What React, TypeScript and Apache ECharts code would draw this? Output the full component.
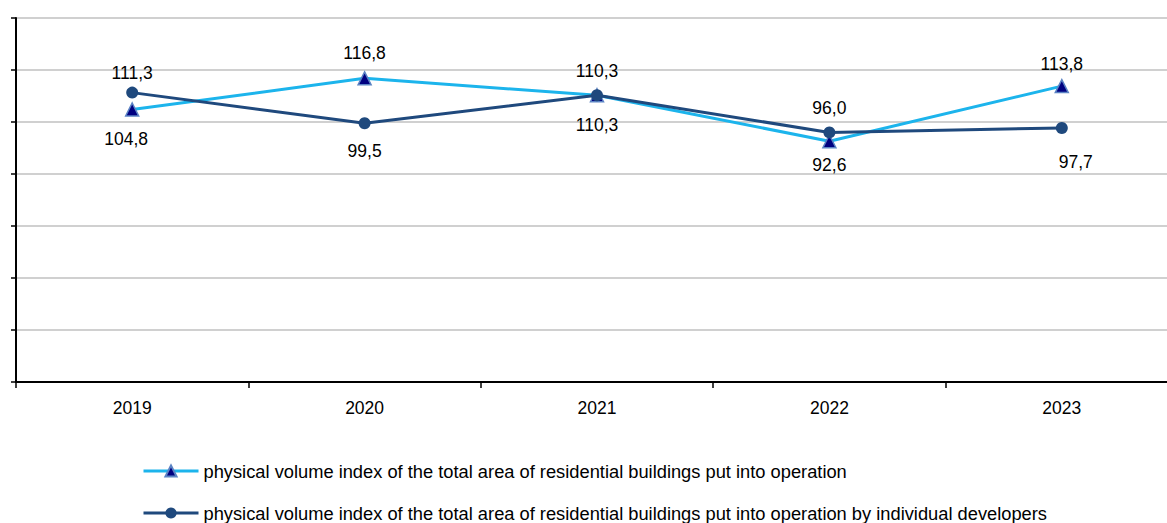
import React, { useEffect, useRef } from "react";
import * as echarts from "echarts";

const years = ["2019", "2020", "2021", "2022", "2023"];
const totalArea = [104.8, 116.8, 110.3, 92.6, 113.8];
const individual = [111.3, 99.5, 110.3, 96.0, 97.7];
const totalAreaLabelPos = ["bottom", "top", "bottom", "bottom", "top"];
const individualLabelPos = ["top", "bottom", "top", "top", "bottom"];
const totalName = "physical volume index of the total area of residential buildings put into operation";
const indivName = "physical volume index of the total area of residential buildings put into operation by individual developers";

const totalDist = [13.5, 9.5, 13.5, 7.5, 5.5];
const totalDx = [-6, 0, 0, 0, 0];
const indivDist = [4.5, 12.5, 9.5, 9.5, 19.5];
const indivDx = [0, 0, 0, 0, 14];

const FONT = "Liberation Sans, Arial, sans-serif";
const fmt = (p: any) => Number(p.value).toFixed(1).replace(".", ",");

export default function App() {
  const ref = useRef<HTMLDivElement>(null);
  useEffect(() => {
    if (!ref.current) return;
    const chart = echarts.init(ref.current, null, { renderer: "svg" });
    const labelStyle = { fontFamily: FONT, fontSize: 17.5, color: "#000" };
    const legendBase = {
      orient: "horizontal",
      left: 140,
      padding: 2,
      itemWidth: 55,
      itemHeight: 14,
      lineStyle: { width: 3 },
      textStyle: { fontSize: 18.3, color: "#000", fontFamily: FONT },
    };
    chart.setOption({
      animation: false,
      textStyle: { fontFamily: FONT },
      grid: { left: 16, top: 18, width: 1162, height: 364 },
      legend: [
        { ...legendBase, top: 460, data: [totalName] },
        { ...legendBase, top: 502, data: [indivName] },
      ],
      xAxis: {
        type: "category",
        data: years,
        boundaryGap: true,
        axisLine: { lineStyle: { color: "#000", width: 2 } },
        axisTick: { show: true, length: 6, lineStyle: { color: "#000", width: 1.5 } },
        axisLabel: { color: "#000", fontSize: 17.5, margin: 17 },
      },
      yAxis: {
        type: "value",
        min: 0,
        max: 140,
        interval: 20,
        axisLine: { show: true, lineStyle: { color: "#000", width: 2 } },
        axisTick: { show: true, length: 5, lineStyle: { color: "#000", width: 1.5 } },
        axisLabel: { show: false },
        splitLine: { lineStyle: { color: "#c0c0c0", width: 1.5 } },
      },
      series: [
        {
          name: totalName,
          type: "line",
          data: totalArea.map((v, i) => ({
            value: v,
            label: { position: totalAreaLabelPos[i], distance: totalDist[i], offset: [totalDx[i], 0] },
          })),
          lineStyle: { color: "#1cb4ec", width: 3 },
          itemStyle: { color: "#000080", borderColor: "#5b83c4", borderWidth: 1.5 },
          symbol: "triangle",
          symbolSize: 13,
          label: { show: true, formatter: fmt, ...labelStyle },
          z: 2,
        },
        {
          name: indivName,
          type: "line",
          data: individual.map((v, i) => ({
            value: v,
            label: { position: individualLabelPos[i], distance: indivDist[i], offset: [indivDx[i], 0] },
          })),
          lineStyle: { color: "#1f497d", width: 3 },
          itemStyle: { color: "#1f497d" },
          symbol: "circle",
          symbolSize: 12,
          label: { show: true, formatter: fmt, ...labelStyle },
          z: 3,
        },
      ],
    });
    return () => chart.dispose();
  }, []);
  return (
    <div
      ref={ref}
      style={{ position: "fixed", left: 0, top: 0, width: 1185, height: 523, background: "#fff" }}
    />
  );
}
